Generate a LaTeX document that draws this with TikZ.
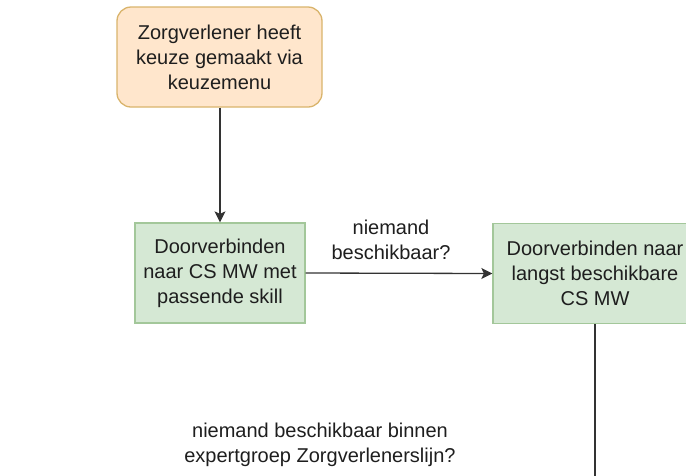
\documentclass[tikz,border=0pt]{standalone}
\usepackage{fontspec}
\setmainfont{Liberation Sans}
\usetikzlibrary{arrows.meta}
\definecolor{ofill}{HTML}{FFE6CC}
\definecolor{odraw}{HTML}{D9B46C}
\definecolor{gfill}{HTML}{D5E8D4}
\definecolor{gdraw}{HTML}{A3C79A}
\definecolor{txt}{HTML}{1E1E1E}
\definecolor{lin}{HTML}{333333}
\tikzset{
  base/.style={font=\fontsize{20}{25}\selectfont, text=txt, align=center, inner sep=0pt},
  orangebox/.style={base, draw=odraw, fill=ofill, line width=1.3pt, rounded corners=14pt, minimum width=205pt, minimum height=100pt},
  greenbox/.style={base, draw=gdraw, fill=gfill, line width=1.3pt, minimum height=100pt},
  lbl/.style={base},
  conn/.style={draw=lin, line width=1.3pt},
  arr/.style={conn, -{Stealth[length=11pt,width=11pt,inset=2.5pt]}}
}
\begin{document}
\begin{tikzpicture}[x=1pt,y=-1pt]
\useasboundingbox (0,0) rectangle (686,475);
\node[orangebox] (start) at (219.5,57) {Zorgverlener heeft\\keuze gemaakt via\\keuzemenu};
\node[greenbox, minimum width=170pt] (b1) at (220,273) {Doorverbinden\\naar CS MW met\\passende skill};
\node[greenbox, minimum width=204pt] (b2) at (595,273.5) {Doorverbinden naar\\langst beschikbare\\CS MW};
\node[lbl] (l1) at (391,240) {niemand\\beschikbaar?};
\node[lbl] (l2) at (320,445) {niemand beschikbaar binnen\\expertgroep Zorgverlenerslijn?};
\coordinate (end) at (595,480);
\draw[arr] (start.south -| b1.north) -- (b1.north);
\draw[arr] (b1.east) -- (b2.west);
\draw[conn] (b2.south) -- (end);
\end{tikzpicture}
\end{document}
